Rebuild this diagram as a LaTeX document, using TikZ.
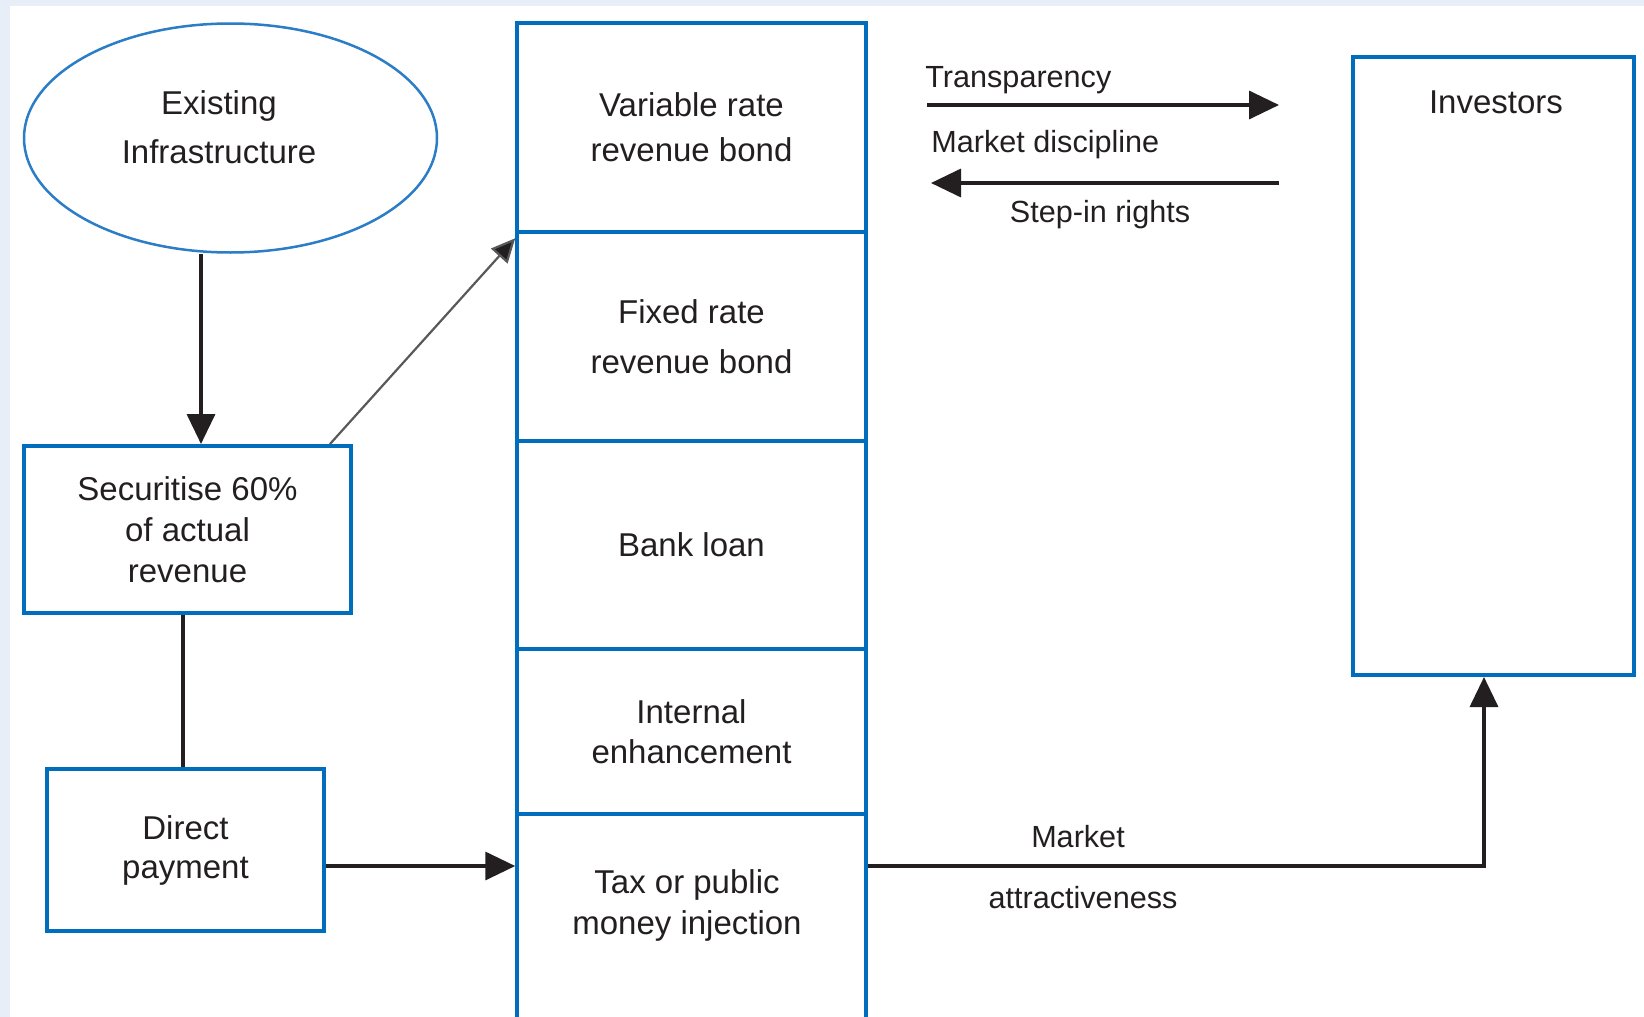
\documentclass[tikz,border=0pt]{standalone}
\usepackage{fontspec}
\setmainfont{Liberation Sans}
\usetikzlibrary{arrows.meta,shapes.geometric,calc}
\definecolor{bgblue}{HTML}{E8EEF8}
\definecolor{boxblue}{HTML}{006EBD}
\definecolor{ellblue}{HTML}{2A7DC6}
\definecolor{ink}{HTML}{231F20}
\newcommand{\fsz}[1]{\fontsize{16.5}{#1}\selectfont}
\newcommand{\fsl}{\fontsize{15.3}{18}\selectfont}
\tikzset{
  bbox/.style={draw=boxblue, line width=2pt, inner sep=0pt, align=center, text=ink},
  cbox/.style={draw=boxblue, line width=1.75pt, inner sep=0pt, align=center, text=ink},
  ellbox/.style={ellipse, draw=ellblue, line width=1.25pt, inner sep=0pt},
  conn/.style={draw=ink, line width=1.75pt},
  arrowtip/.style={-{Triangle[length=15pt,width=14pt]}},
  diag/.style={draw=black!65, line width=1.1pt, -{Triangle[length=12pt,width=11pt,fill=ink]}},
  lbl/.style={text=ink, inner sep=0pt, align=center},
}
\begin{document}
\begin{tikzpicture}[x=0.5pt,y=-0.5pt]
\useasboundingbox (0,0) rectangle (1644,1017);
\fill[bgblue] (0,0) rectangle (1644,1017);
\fill[white] (10,6) rectangle (1644,1017);

% left side
\node[ellbox, minimum width=206.5pt, minimum height=114.5pt] (ell) at (230.5,138) {};
\node[lbl, font=\fsz{24.5}] (elltext) at (219,127.5) {Existing\\Infrastructure};

\node[bbox, minimum width=163.5pt, minimum height=83.5pt, font=\fsz{20.5}] (sec) at (187.5,529.5)
  {Securitise 60\%\\of actual\\revenue};
\node[bbox, minimum width=138.5pt, minimum height=81pt, font=\fsz{19.5}] (dp) at (185.5,850)
  {Direct\\payment};

% column
\node[cbox, minimum width=174.5pt, minimum height=104.5pt, font=\fsz{22.5}] (t1) at (691.5,127.5)
  {Variable rate\\revenue bond};
\node[cbox, minimum width=174.5pt, minimum height=104.5pt, font=\fsz{25}] (t2) at (691.5,336.5)
  {Fixed rate\\revenue bond};
\node[cbox, minimum width=174.5pt, minimum height=104pt, font=\fsz{20}] (t3) at (691.5,545)
  {Bank loan};
\node[cbox, minimum width=174.5pt, minimum height=82.5pt, font=\fsz{20}] (t4) at (691.5,731.5)
  {Internal\\enhancement};
\node[cbox, minimum width=174.5pt, minimum height=113pt] (t5) at (691.5,927) {};
\node[lbl, font=\fsz{20.5}] (t5text) at (687,905) {Tax or public\\money injection};

% investors
\node[bbox, minimum width=140.5pt, minimum height=309pt] (inv) at (1493.5,366) {};
\node[lbl, font=\fsz{20}] (invtext) at (1496,102) {Investors};

% connectors
\draw[conn, arrowtip] ($(ell.south)+(-29.5,0)$) coordinate (a0) -- (a0 |- sec.north);
\draw[conn] ($(sec.south)+(-4.5,0)$) coordinate (a1) -- (a1 |- dp.north);
\draw[diag] ($(sec.north east)+(-23,0)$) -- ($(t2.north west)+(0,8)$);

\coordinate (yl) at (0,866);
\coordinate (mx) at (1484,0);
\draw[conn, arrowtip] (dp.east |- yl) -- (t5.west |- yl);
\draw[conn, arrowtip] (t5.east |- yl) -| (mx |- inv.south);

\coordinate (tr1) at (927,105);
\coordinate (tr2) at (1279,105);
\draw[conn, arrowtip] (tr1) -- (tr2);
\coordinate (md1) at (1279,183);
\coordinate (md2) at (931,183);
\draw[conn, arrowtip] (md1) -- (md2);

% labels
\node[lbl, font=\fsl, anchor=base west] (ltr) at (925,87) {Transparency};
\node[lbl, font=\fsl, anchor=base west] (lmd) at (931,152) {Market discipline};
\node[lbl, font=\fsl, anchor=base] (lsr) at (1100,222) {Step-in rights};
\node[lbl, font=\fsl, anchor=base] (lmk) at (1078,847) {Market};
\node[lbl, font=\fsl, anchor=base] (lat) at (1083,908) {attractiveness};
\end{tikzpicture}
\end{document}
